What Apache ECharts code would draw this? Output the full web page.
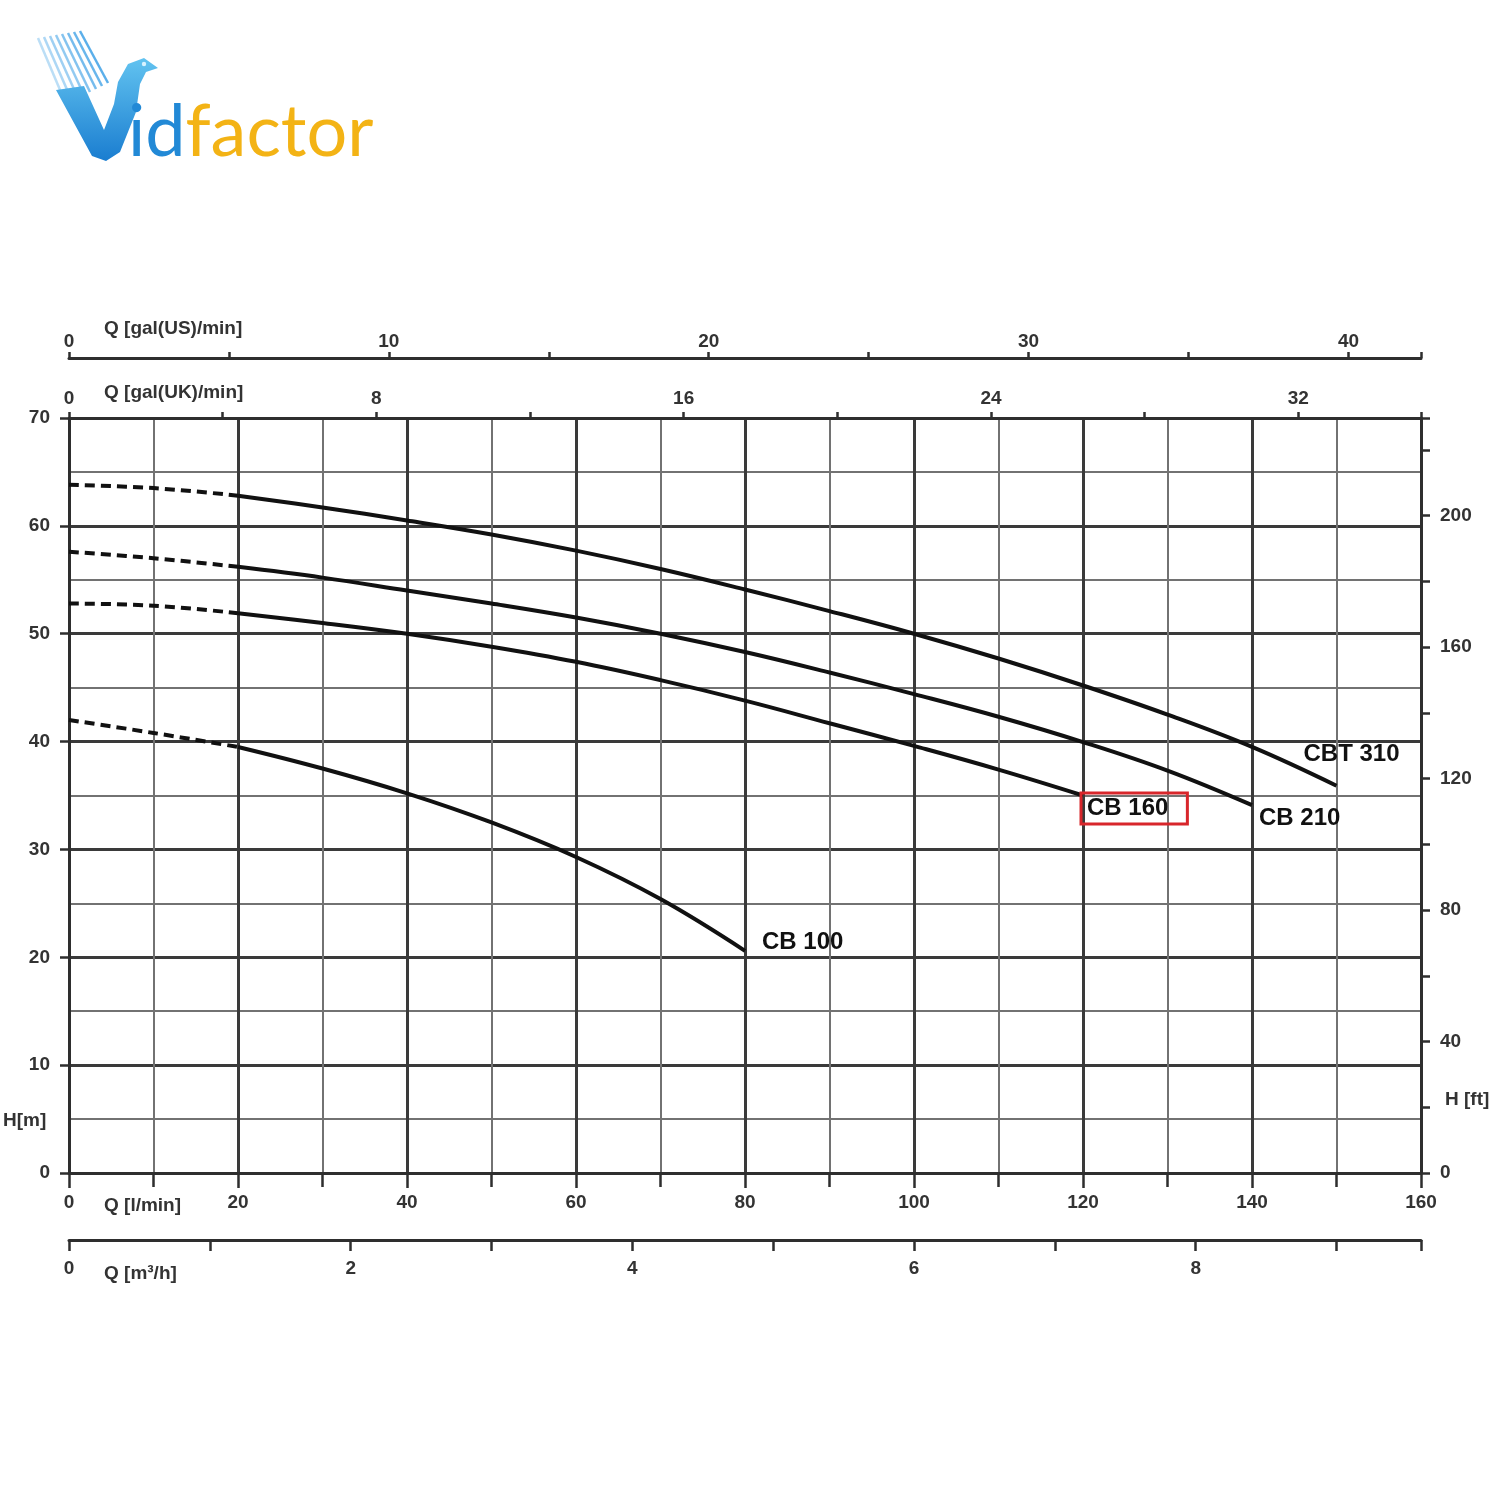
<!DOCTYPE html>
<html><head><meta charset="utf-8">
<script src="https://cdn.jsdelivr.net/npm/echarts@6/dist/echarts.min.js"></script>
<style>html,body{margin:0;padding:0;background:#fff}#c{width:1500px;height:1500px}</style>
</head><body><div id="c"></div>
<script>
// ---------- data ----------
const qDash = [0, 10, 20];                 // l/min, dashed (extrapolated) part
const cbt310Dash = [63.8, 63.5, 62.8];
const cb210Dash  = [57.6, 57.0, 56.2];
const cb160Dash  = [52.8, 52.6, 51.9];
const cb100Dash  = [42.0, 40.8, 39.5];

const qCBT310 = [20, 30, 40, 50, 60, 70, 80, 90, 100, 110, 120, 130, 140, 150];
const hCBT310 = [62.8, 61.7, 60.5, 59.2, 57.7, 56.0, 54.1, 52.1, 50.0, 47.7, 45.2, 42.5, 39.5, 35.9];
const qCB210 = [20, 30, 40, 50, 60, 70, 80, 90, 100, 110, 120, 130, 140];
const hCB210 = [56.2, 55.2, 54.0, 52.8, 51.5, 50.0, 48.3, 46.4, 44.4, 42.3, 39.95, 37.3, 34.1];
const qCB160 = [20, 30, 40, 50, 60, 70, 80, 90, 100, 110, 120];
const hCB160 = [51.9, 51.0, 50.0, 48.8, 47.4, 45.7, 43.8, 41.7, 39.6, 37.4, 35.0];
const qCB100 = [20, 30, 40, 50, 60, 70, 80];
const hCB100 = [39.5, 37.5, 35.2, 32.5, 29.3, 25.4, 20.6];

const seriesNames = ['CBT 310', 'CB 210', 'CB 160', 'CB 100'];

// axis ranges / unit conversions
const Q_MAX = 160;           // l/min
const H_MAX = 70;            // m
const L_PER_GAL_US = 3.78541;
const L_PER_GAL_UK = 4.54609;
const FT_PER_M = 3.28084;

// ---------- styling ----------
const FONT = 'Liberation Sans';
const AX = '#2e2e2e';
const TXT = '#333';
const lblStyle = { fontFamily: FONT, fontSize: 19, fontWeight: 'bold', color: TXT };

const labelPos = {
  'CBT 310': [-33, -31],
  'CB 210': [7, 13],
  'CB 160': [-2, 13],
  'CB 100': [17, -8]
};

function endLabelled(q, h, name) {
  return q.map((x, i) => {
    if (i !== q.length - 1) return [x, h[i]];
    const lab = {
      show: true, formatter: name, position: labelPos[name],
      align: 'left', verticalAlign: 'middle',
      fontFamily: FONT, fontSize: 24, fontWeight: 'bold', color: '#111'
    };
    if (name === 'CB 160') {
      Object.assign(lab, { borderColor: '#d8262b', borderWidth: 3, padding: [4, 19, 3, 6] });
    }
    return { value: [x, h[i]], label: lab };
  });
}

function dashSeries(q, h) {
  return {
    type: 'line', xAxisIndex: 0, yAxisIndex: 0, smooth: 0.4, showSymbol: false, silent: true,
    data: q.map((x, i) => [x, h[i]]),
    lineStyle: { color: '#111', width: 4, type: [10, 6] }, z: 5
  };
}
function solidSeries(q, h, name) {
  return {
    name: name, type: 'line', xAxisIndex: 0, yAxisIndex: 0, smooth: 0.4,
    symbol: 'circle', symbolSize: 0, showSymbol: true, showAllSymbol: true, silent: true,
    data: endLabelled(q, h, name),
    lineStyle: { color: '#111', width: 4 }, itemStyle: { color: '#111' }, z: 6
  };
}

function onlyMultiples(step) {
  return v => (Math.abs(v / step - Math.round(v / step)) < 1e-6) ? String(Math.round(v)) : '';
}

const chart = echarts.init(document.getElementById('c'), null, { renderer: 'canvas' });

const txt = (text, x, y, extra) => ({
  type: 'text', x: x, y: y, silent: true,
  style: Object.assign({ text: text, font: 'bold 19px "Liberation Sans"', fill: TXT, textVerticalAlign: 'middle', verticalAlign: 'middle' }, extra || {})
});

const stripes = [];
for (let k = 0; k < 8; k++) {
  stripes.push({
    type: 'line', silent: true,
    shape: { x1: 38 + 6 * k, y1: 38 - k, x2: 66 + 6 * k, y2: 104 - 3 * k },
    style: { stroke: 'rgba(60,160,230,' + (0.35 + 0.07 * k) + ')', lineWidth: 2.5 }
  });
}

const option = {
  backgroundColor: '#ffffff',
  animation: false,
  grid: { left: 69, right: 79, top: 418, bottom: 327, containLabel: false, outerBoundsMode: 'none' },
  xAxis: [
    { // l/min (main)
      type: 'value', position: 'bottom', min: 0, max: Q_MAX, interval: 20,
      axisLine: { show: true, onZero: false, lineStyle: { color: AX, width: 3 } },
      axisTick: { show: true, length: 15, lineStyle: { color: AX, width: 2.5 } },
      minorTick: { show: true, splitNumber: 2, length: 14, lineStyle: { color: AX, width: 2.5 } },
      splitLine: { show: true, lineStyle: { color: '#3a3a3a', width: 3 } },
      minorSplitLine: { show: true, lineStyle: { color: '#727272', width: 2 } },
      axisLabel: Object.assign({ margin: 20 }, lblStyle)
    },
    { // m3/h
      type: 'value', position: 'bottom', offset: 67, min: 0, max: Q_MAX * 60 / 1000, interval: 1,
      axisLine: { show: true, onZero: false, lineStyle: { color: AX, width: 3 } },
      axisTick: { show: true, length: 11, lineStyle: { color: AX, width: 2.5 } },
      splitLine: { show: false },
      axisLabel: Object.assign({ margin: 19, formatter: onlyMultiples(2) }, lblStyle)
    },
    { // gal(UK)/min
      type: 'value', position: 'top', offset: 0, min: 0, max: Q_MAX / L_PER_GAL_UK, interval: 4,
      axisLine: { show: true, onZero: false, lineStyle: { color: AX, width: 3 } },
      axisTick: { show: true, length: 6, lineStyle: { color: AX, width: 2.5 } },
      splitLine: { show: false },
      axisLabel: Object.assign({ margin: 10, formatter: onlyMultiples(8) }, lblStyle)
    },
    { // gal(US)/min
      type: 'value', position: 'top', offset: 60, min: 0, max: Q_MAX / L_PER_GAL_US, interval: 5,
      axisLine: { show: true, onZero: false, lineStyle: { color: AX, width: 3 } },
      axisTick: { show: true, length: 6, lineStyle: { color: AX, width: 2.5 } },
      splitLine: { show: false },
      axisLabel: Object.assign({ margin: 7, formatter: onlyMultiples(10) }, lblStyle)
    }
  ],
  yAxis: [
    { // H [m]
      type: 'value', position: 'left', min: 0, max: H_MAX, interval: 10,
      axisLine: { show: true, onZero: false, lineStyle: { color: AX, width: 3 } },
      axisTick: { show: true, length: 9, lineStyle: { color: AX, width: 2.5 } },
      splitLine: { show: true, lineStyle: { color: '#3a3a3a', width: 3 } },
      minorTick: { show: false, splitNumber: 2 },
      minorSplitLine: { show: true, lineStyle: { color: '#727272', width: 2 } },
      axisLabel: Object.assign({ margin: 19 }, lblStyle)
    },
    { // H [ft]
      type: 'value', position: 'right', min: 0, max: H_MAX * FT_PER_M, interval: 20,
      axisLine: { show: true, onZero: false, lineStyle: { color: AX, width: 3 } },
      axisTick: { show: true, length: 9, lineStyle: { color: AX, width: 2.5 } },
      splitLine: { show: false },
      axisLabel: Object.assign({ margin: 19, formatter: onlyMultiples(40) }, lblStyle)
    }
  ],
  series: [
    dashSeries(qDash, cbt310Dash),
    dashSeries(qDash, cb210Dash),
    dashSeries(qDash, cb160Dash),
    dashSeries(qDash, cb100Dash),
    solidSeries(qCBT310, hCBT310, seriesNames[0]),
    solidSeries(qCB210, hCB210, seriesNames[1]),
    solidSeries(qCB160, hCB160, seriesNames[2]),
    solidSeries(qCB100, hCB100, seriesNames[3])
  ],
  graphic: [
    txt('Q [gal(US)/min]', 104, 329),
    txt('Q [gal(UK)/min]', 104, 393),
    txt('Q [l/min]', 104, 1206),
    txt('Q [m³/h]', 104, 1274),
    txt('H[m]', 3, 1121),
    txt('H [ft]', 1445, 1100),
    // logo
    ...stripes,
    {
      type: 'polygon', silent: true,
      shape: { points: [[56,90],[84,86],[104,130],[114,104],[118,82],[128,64],[144,58],[158,68],[146,72],[140,84],[136,112],[120,152],[106,161],[92,156]] },
      style: { fill: new echarts.graphic.LinearGradient(0, 0, 0, 1, [{ offset: 0, color: '#62c3f0' }, { offset: 1, color: '#1a7dd0' }]) }
    },
    { type: 'circle', silent: true, shape: { cx: 144, cy: 64, r: 2.2 }, style: { fill: '#d8f2ff' } },
    {
      type: 'text', x: 128, y: 133, silent: true,
      style: {
        text: '{b|id}{y|factor}', verticalAlign: 'middle', textVerticalAlign: 'middle',
        rich: {
          b: { fontFamily: 'Lato', fontSize: 72, fill: '#2289d6', color: '#2289d6' },
          y: { fontFamily: 'Lato', fontSize: 72, fill: '#f3b315', color: '#f3b315' }
        }
      }
    }
  ]
};
chart.setOption(option);
</script>
</body></html>
